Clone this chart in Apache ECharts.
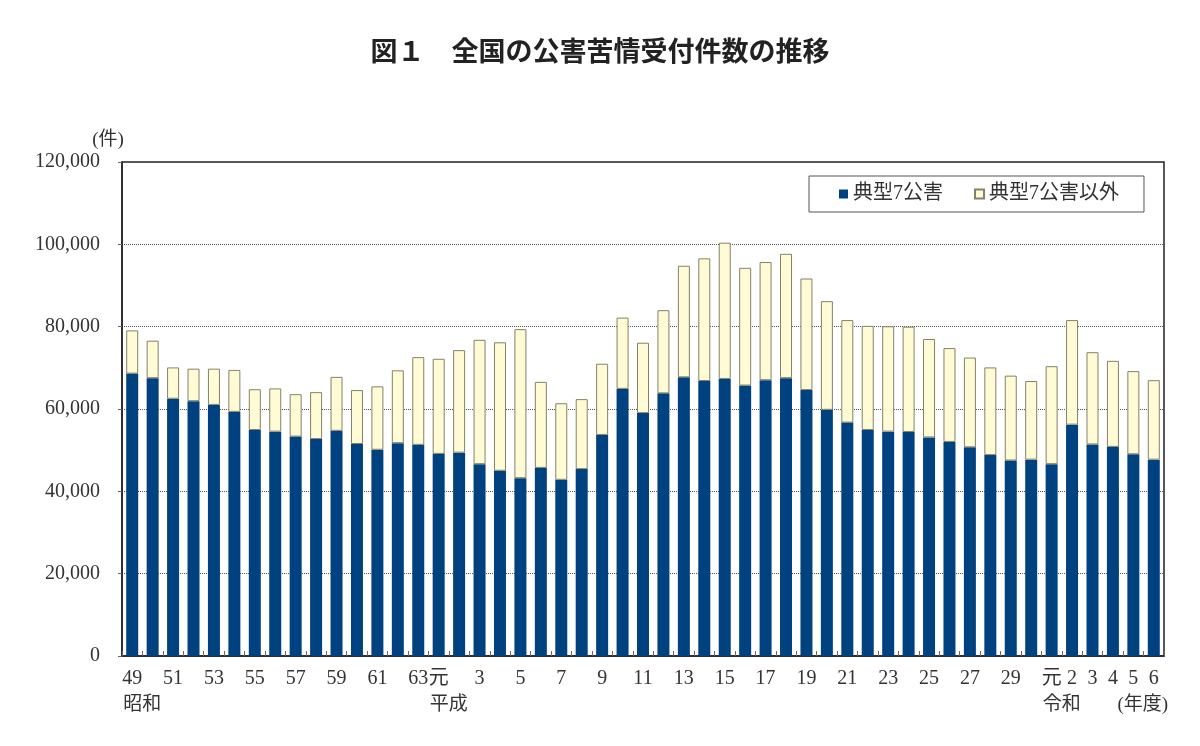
<!DOCTYPE html>
<html lang="ja">
<head>
<meta charset="utf-8">
<title>全国の公害苦情受付件数の推移</title>
<script src="https://cdn.jsdelivr.net/npm/echarts@6/dist/echarts.min.js"></script>
<style>
  html, body { margin: 0; padding: 0; background: #ffffff; }
  #chart { width: 1200px; height: 746px; }
</style>
</head>
<body>
<div id="chart"></div>
<script>
/* 全国の公害苦情受付件数の推移 — stacked bars, 昭和49年度〜令和6年度 */

// ── Data (件) ───────────────────────────────────────────────────────────────

// year labels under each bar ('' = unlabelled bar)
var yearLabels = [
  '49', '', '51', '', '53', '', '55', '', '57', '', '59', '', '61', '', '63',
  '元', '', '3', '', '5', '', '7', '', '9', '', '11', '', '13', '', '15', '',
  '17', '', '19', '', '21', '', '23', '', '25', '', '27', '', '29', '',
  '元', '2', '3', '4', '5', '6'
];

// second-line era names: [bar index, text]
var eraMarks = [[0, '昭和'], [15, '平成'], [45, '令和'], [50, '(年度)']];

// 典型7公害
var typicalSeven = [
  68600, 67500, 62500, 61900, 61000, 59300, 54900, 54500, 53300, 52700,
  54700, 51500, 50100, 51700, 51300,
  49100, 49400, 46600, 45000, 43200, 45700, 42800, 45400, 53700, 64900,
  59000, 63800, 67700, 66800, 67300, 65700, 67000, 67500, 64600, 59800,
  56700, 54900, 54500, 54400, 53100, 52000, 50700, 48800, 47500, 47700,
  46600, 56200, 51400, 50800, 49000, 47700
];

// 典型7公害以外
var otherComplaints = [
  10500, 9100, 7600, 7900, 8800, 10200, 9900, 10500, 10300, 11400,
  13100, 13100, 15400, 17700, 21300,
  23100, 24900, 30200, 31200, 36200, 20900, 18600, 17000, 17300, 17300,
  17100, 20200, 27100, 29800, 33100, 28600, 28700, 30200, 27100, 26400,
  24900, 25300, 25600, 25600, 23900, 22800, 21800, 21300, 20600, 19100,
  23800, 25400, 22400, 20900, 20200, 19300
];

var seriesNames = ['典型7公害', '典型7公害以外'];

// ── Chart ──────────────────────────────────────────────────────────────────

(function () {
  'use strict';

  var serif = '"Liberation Serif", "Noto Sans CJK JP", serif';
  var colors = {
    typical: '#00427f',
    other:   '#fffbd4',
    otherEdge: '#858069',
    axis:    '#222222',
    grid:    '#555555',
    text:    '#333333'
  };

  var eraByIndex = {};
  eraMarks.forEach(function (m) { eraByIndex[m[0]] = m[1]; });

  function xLabel(value, index) {
    var year = yearLabels[index] || '';
    var era = eraByIndex[index];
    if (!era) return year;
    // era text left-aligned with year (right-aligned for 年度)
    var style = era === '(年度)' ? 'u' : 'e';
    return '{y|' + year + '}\n{' + style + '|' + era + '}';
  }

  var categories = yearLabels.map(function (v, i) { return String(i); });

  var chart = echarts.init(document.getElementById('chart'), null, { renderer: 'canvas' });

  chart.setOption({
    backgroundColor: '#ffffff',
    animation: false,
    title: {
      text: '図１　全国の公害苦情受付件数の推移',
      left: 'center',
      top: 32,
      textStyle: {
        fontFamily: '"Noto Sans CJK JP", sans-serif',
        fontSize: 27,
        fontWeight: 'bold',
        color: '#222222'
      }
    },
    legend: {
      data: seriesNames,
      left: 809,
      top: 176,
      orient: 'horizontal',
      padding: [8, 25, 8, 30],
      itemWidth: 9,
      itemHeight: 9,
      itemGap: 31,
      icon: 'rect',
      backgroundColor: '#ffffff',
      borderColor: '#555555',
      borderWidth: 1,
      borderRadius: 0,
      textStyle: { fontFamily: serif, fontSize: 20, color: colors.text }
    },
    grid: {
      left: 122,
      right: 36,
      top: 162,
      bottom: 90,
      show: true,
      borderColor: colors.axis,
      borderWidth: 1.5,
      containLabel: false
    },
    xAxis: {
      type: 'category',
      data: categories,
      boundaryGap: true,
      axisLine: { lineStyle: { color: colors.axis, width: 1.5 } },
      axisTick: {
        show: true,
        inside: true,
        interval: 0,
        length: 5,
        lineStyle: { color: '#666666' }
      },
      axisLabel: {
        interval: 0,
        margin: 10,
        color: colors.text,
        fontFamily: serif,
        fontSize: 20,
        lineHeight: 26,
        formatter: xLabel,
        rich: {
          y: { fontFamily: serif, fontSize: 20, lineHeight: 26, color: colors.text },
          e: { fontFamily: serif, fontSize: 19, lineHeight: 26, color: colors.text, padding: [0, 0, 0, 20] },
          u: { fontFamily: serif, fontSize: 19, lineHeight: 26, color: colors.text, padding: [0, 22, 0, 0] }
        }
      }
    },
    yAxis: {
      type: 'value',
      min: 0,
      max: 120000,
      interval: 20000,
      name: '(件)',
      nameLocation: 'end',
      nameGap: 12,
      nameTextStyle: {
        fontFamily: serif,
        fontSize: 19,
        color: colors.text,
        padding: [0, 28, 0, 0]
      },
      axisLine: { show: true, lineStyle: { color: colors.axis, width: 1.5 } },
      axisTick: { show: true, length: 4, lineStyle: { color: '#666666' } },
      axisLabel: {
        margin: 22,
        color: colors.text,
        fontFamily: serif,
        fontSize: 20,
        formatter: function (v) { return v.toLocaleString('en-US'); }
      },
      splitLine: {
        show: true,
        lineStyle: { color: colors.grid, type: 'dotted', width: 1 }
      }
    },
    series: [
      {
        name: seriesNames[0],
        type: 'bar',
        stack: 'total',
        data: typicalSeven,
        barWidth: 12,
        itemStyle: { color: colors.typical }
      },
      {
        name: seriesNames[1],
        type: 'bar',
        stack: 'total',
        data: otherComplaints,
        barWidth: 12,
        itemStyle: { color: colors.other, borderColor: colors.otherEdge, borderWidth: 1 }
      }
    ]
  });

  window.addEventListener('resize', function () { chart.resize(); });
})();
</script>
</body>
</html>
